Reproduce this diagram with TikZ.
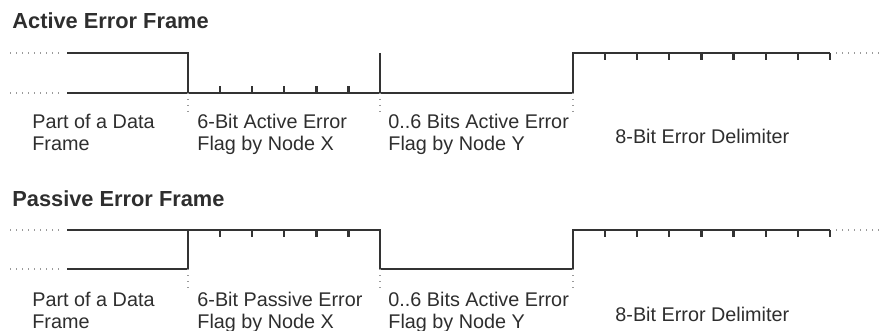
\documentclass[tikz,border=0pt]{standalone}
\usepackage{fontspec}
\setmainfont{Liberation Sans}
\definecolor{sigcol}{HTML}{333333}
\definecolor{txtcol}{HTML}{2E2E2E}
\definecolor{dotcol}{HTML}{9A9A9A}

\begin{document}
\begin{tikzpicture}[x=0.5pt,y=-0.5pt,
        sig/.style={draw=sigcol,line width=1.1pt},
        idle/.style={draw=dotcol,line width=0.6pt,dash pattern=on 0.6pt off 2.4pt},
        lbl/.style={anchor=base west,align=left,inner sep=0pt,text=txtcol,
                    font=\fontsize{9.9}{11}\selectfont},
        ttl/.style={anchor=base west,inner sep=0pt,text=txtcol,
                    font=\fontsize{10.9}{12}\selectfont\bfseries}]

  \useasboundingbox (0,0) rectangle (881,331);

  % active error frame
  \node[ttl] (act) at (12,29) {Active Error Frame};

  \coordinate (ah0) at (67,53);   \coordinate (al0) at (67,93);
  \coordinate (ax)  at (188,53);  \coordinate (axl) at (188,93);
  \coordinate (ay)  at (380,53);  \coordinate (ayl) at (380,93);
  \coordinate (ad)  at (573,53);  \coordinate (adl) at (573,93);
  \coordinate (ae)  at (830,53);

  \draw[sig] (ah0) -- (ax) -- (axl);
  \draw[sig] (al0) -- (adl) -- (ad) -- (ae);
  \draw[sig] (ay) -- (ayl);
  \foreach \i in {1,...,5}
    \draw[sig] ([xshift=\i*16.05pt]axl) -- ++(0,-7);
  \foreach \i in {1,...,8}
    \draw[sig] ([xshift=\i*16.05pt]ad) -- ++(0,7);

  \draw[idle] (10,53) -- (62,53);
  \draw[idle] (10,93) -- (62,93);
  \draw[idle] (836,53) -- (881,53);
  \foreach \c in {axl,ayl,adl}
    \draw[idle] (\c) -- ++(0,19);

  \node[lbl] (a1) at (32,151)  {Part of a Data\\Frame};
  \node[lbl] (a2) at (197,151) {6-Bit Active Error\\Flag by Node X};
  \node[lbl] (a3) at (388,151) {0..6 Bits Active Error\\Flag by Node Y};
  \node[lbl] (a4) at (615,144) {8-Bit Error Delimiter};

  % passive error frame
  \node[ttl] (pas) at (12,206) {Passive Error Frame};

  \coordinate (ph0) at (67,230);  \coordinate (pl0) at (67,269);
  \coordinate (px)  at (188,230); \coordinate (pxl) at (188,269);
  \coordinate (py)  at (380,230); \coordinate (pyl) at (380,269);
  \coordinate (pd)  at (573,230); \coordinate (pdl) at (573,269);
  \coordinate (pe)  at (830,230);

  \draw[sig] (ph0) -- (py) -- (pyl) -- (pdl) -- (pd) -- (pe);
  \draw[sig] (pl0) -- (pxl) -- (px);
  \foreach \i in {1,...,5}
    \draw[sig] ([xshift=\i*16.05pt]px) -- ++(0,7);
  \foreach \i in {1,...,8}
    \draw[sig] ([xshift=\i*16.05pt]pd) -- ++(0,7);

  \draw[idle] (10,230) -- (62,230);
  \draw[idle] (10,269) -- (62,269);
  \draw[idle] (836,230) -- (881,230);
  \foreach \c in {pxl,pyl,pdl}
    \draw[idle] (\c) -- ++(0,19);

  \node[lbl] (p1) at (32,328)  {Part of a Data\\Frame};
  \node[lbl] (p2) at (197,328) {6-Bit Passive Error\\Flag by Node X};
  \node[lbl] (p3) at (388,328) {0..6 Bits Active Error\\Flag by Node Y};
  \node[lbl] (p4) at (615,321) {8-Bit Error Delimiter};

\end{tikzpicture}
\end{document}
